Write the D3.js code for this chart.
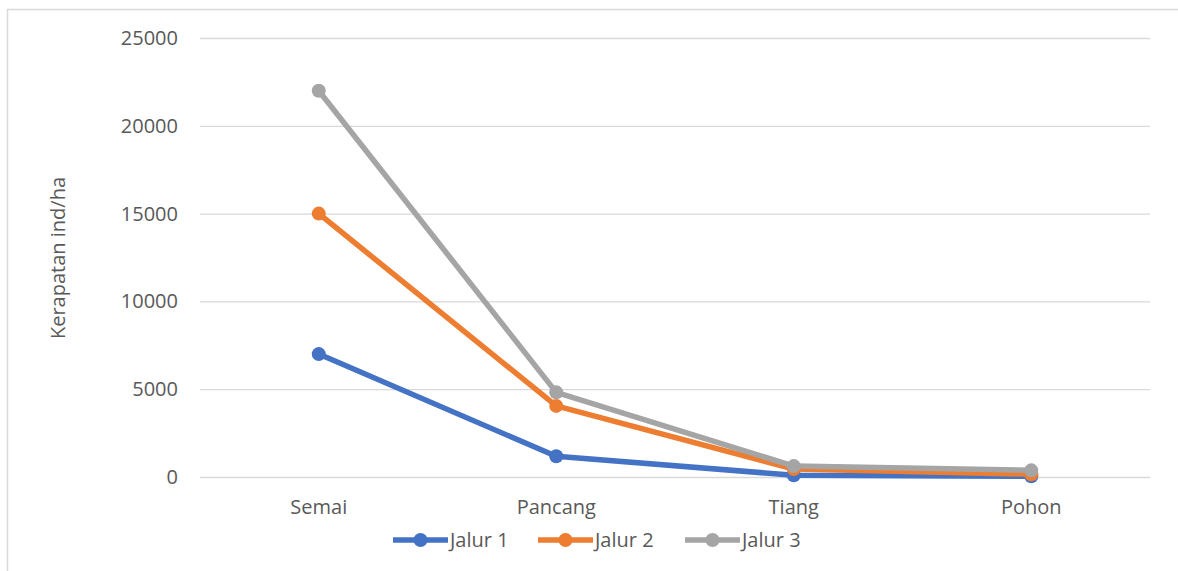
<!DOCTYPE html>
<html><head><meta charset="utf-8">
<script src="https://cdn.jsdelivr.net/npm/d3@7"></script>
<style>body{margin:0;background:#fff}svg{display:block}text{font-family:"Open Sans","Liberation Sans",Arial,sans-serif;fill:#595959}</style>
</head><body><svg id="c" width="1178" height="571"></svg>
<script>
const categories = ["Semai","Pancang","Tiang","Pohon"];
const seriesNames = ["Jalur 1","Jalur 2","Jalur 3"];
const jalur1 = [7000,1180,100,40];
const jalur2 = [15000,4050,450,160];
const jalur3 = [22000,4820,620,380];
const yTicks = [0,5000,10000,15000,20000,25000];
const colors = ["#4472c4","#ed7d31","#a5a5a5"];
const series = [jalur1,jalur2,jalur3];
const FS = 20;

const svg = d3.select("#c");
svg.append("rect").attr("x",7.5).attr("y",9.5).attr("width",1180).attr("height",580)
  .attr("fill","#fff").attr("stroke","#d9d9d9").attr("stroke-width",1.5);

const x = d3.scaleBand().domain(categories).range([200,1150]);
const y = d3.scaleLinear().domain([0,25000]).range([477,38]);

const gy = svg.append("g").attr("transform","translate(200,0)")
  .call(d3.axisLeft(y).tickValues(yTicks).tickSize(-950).tickFormat(d3.format("d")).tickPadding(22));
gy.select(".domain").remove();
gy.selectAll("line").attr("stroke","#d9d9d9").attr("stroke-width",1.3);
gy.selectAll("text").attr("font-size",FS).style("fill","#595959");

const gx = svg.append("g").attr("transform","translate(0,477)")
  .call(d3.axisBottom(x).tickSize(0).tickPadding(23));
gx.select(".domain").remove();
gx.selectAll("text").attr("font-size",FS).style("fill","#595959");

svg.append("text").attr("transform","translate(65,258) rotate(-90)")
  .attr("text-anchor","middle").attr("font-size",FS).text("Kerapatan ind/ha");

const line = d3.line().x((d,i)=>x(categories[i])+x.bandwidth()/2).y(d=>y(d));
series.forEach((s,k)=>{
  svg.append("path").datum(s).attr("d",line).attr("fill","none")
    .attr("stroke",colors[k]).attr("stroke-width",5.5).attr("stroke-linejoin","round");
  svg.selectAll(null).data(s).enter().append("circle")
    .attr("cx",(d,i)=>x(categories[i])+x.bandwidth()/2).attr("cy",d=>y(d))
    .attr("r",7).attr("fill",colors[k]);
});

const legX = [393,538,685];
seriesNames.forEach((n,k)=>{
  const g = svg.append("g").attr("transform",`translate(${legX[k]},540)`);
  g.append("line").attr("x1",0).attr("x2",55).attr("stroke",colors[k]).attr("stroke-width",5.5);
  g.append("circle").attr("cx",27.5).attr("r",7).attr("fill",colors[k]);
  g.append("text").attr("x",57).attr("y",7).attr("font-size",FS).text(n);
});
</script></body></html>
